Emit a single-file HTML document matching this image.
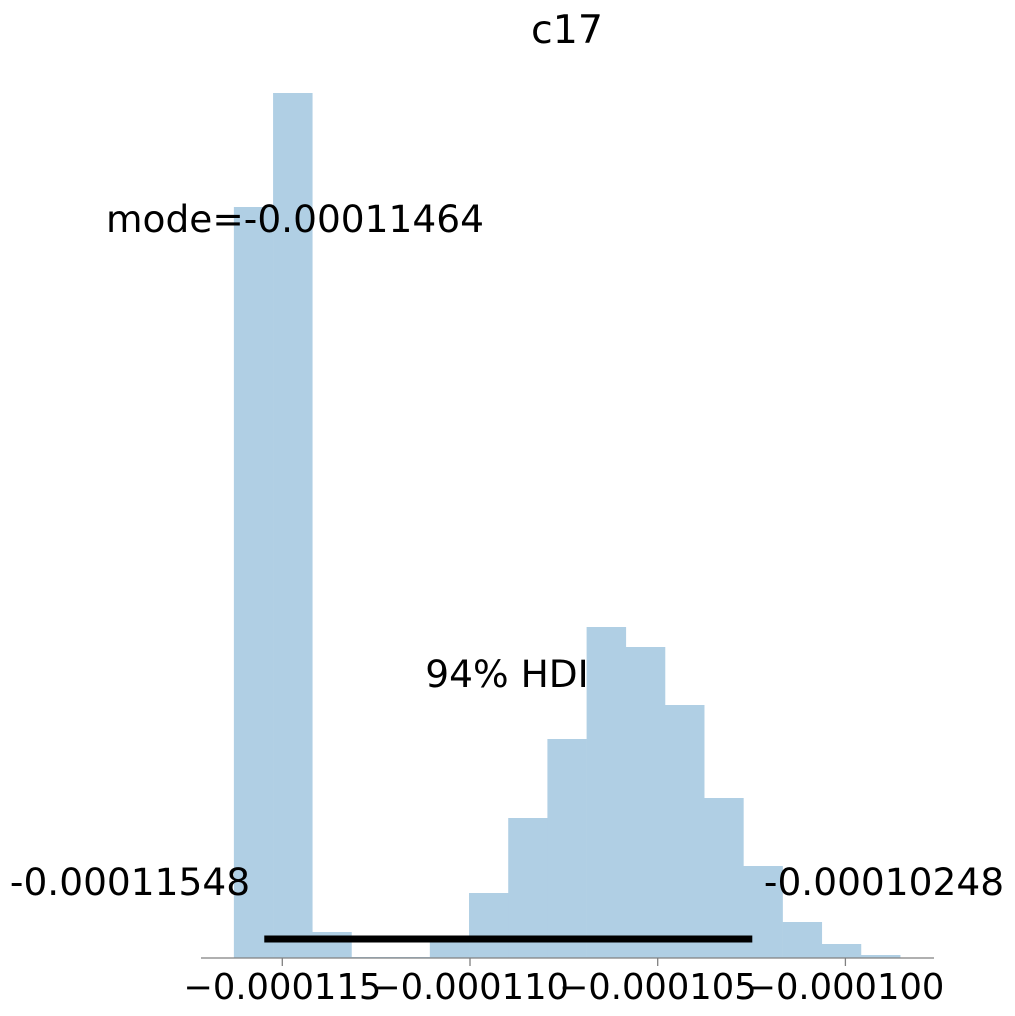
<!DOCTYPE html>
<html><head><meta charset="utf-8"><style>
body{margin:0;background:#fff}
svg text{font-family:"DejaVu Sans","Liberation Sans",sans-serif;fill:#000}
</style></head><body>
<svg width="1015" height="1011" viewBox="0 0 1015 1011" xmlns="http://www.w3.org/2000/svg">
<text x="567" y="43" font-size="39.5" text-anchor="middle">c17</text>
<g id="bars"></g>
<g id="axis"></g>
<g id="ann"></g>
</svg>
<script>
const binStart = -0.00011629;
const binWidth = 1.044e-6;
const binHeights = [751, 865, 26, 1, 1, 18, 65, 140, 219, 331, 311, 253, 160, 92, 36, 14, 3];
const tickValues = [-0.000115, -0.000110, -0.000105, -0.000100];
const tickLabels = ["−0.000115", "−0.000110", "−0.000105", "−0.000100"];
const hdiLow = -0.00011548;
const hdiHigh = -0.00010248;
const modeValue = -0.00011464;

const NS = "http://www.w3.org/2000/svg";
function xScale(v){ return 470 + (v - (-0.000110)) / 0.000005 * 187.7; }
function yScale(h){ return 958 - h; }
function mk(tag, attrs, parent){ const e=document.createElementNS(NS,tag); for(const k in attrs) e.setAttribute(k,attrs[k]); parent.appendChild(e); return e; }

const bars=document.getElementById('bars');
binHeights.forEach((h,i)=>{
  const x0=xScale(binStart+i*binWidth), x1=xScale(binStart+(i+1)*binWidth);
  const r=mk('rect',{x:x0,y:yScale(h),width:x1-x0+0.3,height:h,fill:'#b0cfe4'},bars);
  
  
});

const axis=document.getElementById('axis');
const al=mk('line',{x1:201,x2:934,y1:958,y2:958,stroke:'#808080','stroke-width':1.3},axis);


tickValues.forEach((v,i)=>{
  const x=xScale(v);
  const t=mk('line',{x1:x,x2:x,y1:958,y2:966,stroke:'#808080','stroke-width':1.3},axis);
  
  
  const lb=mk('text',{x:x,y:999,'font-size':35.3,'text-anchor':'middle'},axis);
  lb.textContent=tickLabels[i];
  
  
});

const ann=document.getElementById('ann');
const hl=mk('line',{x1:xScale(hdiLow),x2:xScale(hdiHigh),y1:939,y2:939,stroke:'#000','stroke-width':7},ann);


const t1=mk('text',{x:507,y:687,'font-size':37.5,'text-anchor':'middle'},ann);
t1.textContent='94% HDI';


const t2=mk('text',{x:130,y:895,'font-size':37.5,'text-anchor':'middle'},ann);
t2.textContent=hdiLow.toFixed(8);


const t3=mk('text',{x:884,y:895,'font-size':37.5,'text-anchor':'middle'},ann);
t3.textContent=hdiHigh.toFixed(8);


const t4=mk('text',{x:295,y:232,'font-size':37.5,'text-anchor':'middle'},ann);
t4.textContent='mode='+modeValue.toFixed(8);


</script>
</body></html>
